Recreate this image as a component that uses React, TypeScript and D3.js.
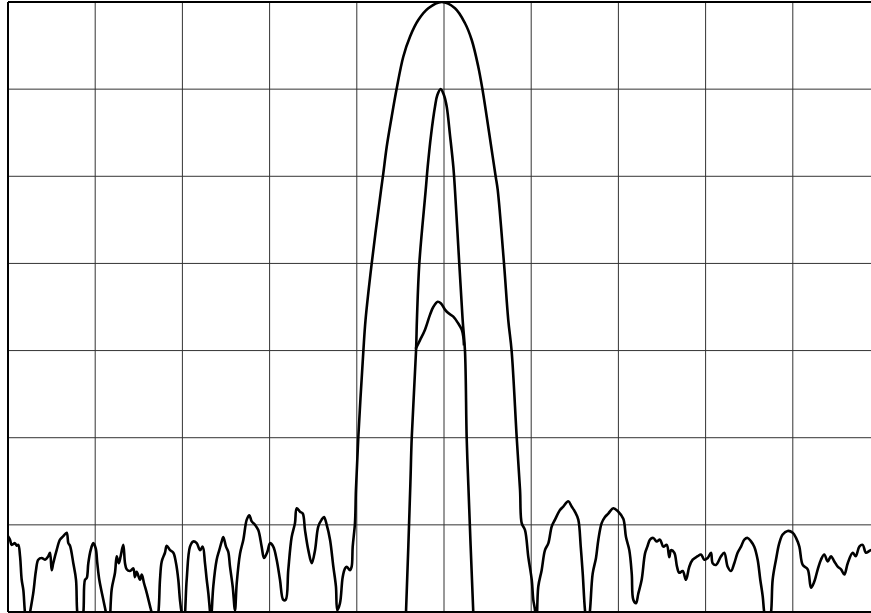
import React from "react";
import * as d3 from "d3";

// x: beam angle in grid divisions (centre = 0), y: level in dB
const xTicks = [-5, -4, -3, -2, -1, 0, 1, 2, 3, 4, 5];
const yTicks = [-70, -60, -50, -40, -30, -20, -10, 0];

// wide beam including noisy side-lobe floor
const wideBeam: [number, number][] = [
  [-5.0, -61.3], [-4.977, -61.7], [-4.958, -62.3], [-4.92, -62.1], [-4.9, -62.4], [-4.882, -62.3],
  [-4.862, -63.6], [-4.843, -66.3], [-4.824, -67.5], [-4.805, -70.1], [-4.776, -72], [-4.748, -70.1],
  [-4.71, -67.8], [-4.679, -65.2], [-4.653, -64.0], [-4.614, -63.8], [-4.576, -64.0], [-4.538, -63.6],
  [-4.518, -63.2], [-4.499, -65.2], [-4.481, -64.4], [-4.442, -62.9], [-4.404, -61.7], [-4.366, -61.3],
  [-4.327, -60.9], [-4.308, -62.1], [-4.289, -62.4], [-4.251, -64.4], [-4.22, -66.3], [-4.205, -70.1],
  [-4.17, -72], [-4.136, -70.1], [-4.117, -66.3], [-4.097, -66.1], [-4.079, -64.4], [-4.052, -62.9],
  [-4.022, -62.1], [-3.994, -62.7], [-3.976, -64.4], [-3.953, -66.3], [-3.907, -68.6], [-3.876, -70.1],
  [-3.842, -72], [-3.811, -67.4], [-3.773, -65.5], [-3.753, -63.6], [-3.73, -64.4], [-3.708, -63.6],
  [-3.678, -62.3], [-3.658, -64.4], [-3.639, -65.1], [-3.601, -65.3], [-3.563, -65.0], [-3.544, -66.0],
  [-3.524, -65.4], [-3.486, -66.3], [-3.466, -65.7], [-3.44, -66.7], [-3.409, -67.8], [-3.372, -69.3],
  [-3.352, -70.1], [-3.314, -72], [-3.276, -70.1], [-3.257, -66.3], [-3.237, -64.2], [-3.2, -63.2],
  [-3.18, -62.4], [-3.142, -62.9], [-3.104, -63.2], [-3.073, -64.4], [-3.047, -66.3], [-3.028, -68.6],
  [-3.008, -70.1], [-2.982, -71], [-2.951, -66.3], [-2.913, -62.5], [-2.875, -61.9], [-2.836, -62.1],
  [-2.798, -62.9], [-2.767, -62.5], [-2.741, -64.4], [-2.721, -66.3], [-2.703, -67.8], [-2.683, -70.0],
  [-2.673, -71], [-2.664, -70.0], [-2.646, -67.1], [-2.607, -64.0], [-2.577, -62.9], [-2.549, -61.9],
  [-2.531, -61.4], [-2.5, -62.5], [-2.474, -63.1], [-2.454, -64.8], [-2.423, -67.1], [-2.397, -69.8],
  [-2.377, -66.7], [-2.339, -63.3], [-2.301, -61.7], [-2.262, -59.4], [-2.232, -58.9], [-2.205, -59.6],
  [-2.167, -60.0], [-2.13, -60.6], [-2.091, -62.5], [-2.064, -63.8], [-2.026, -63.1], [-1.995, -62.1],
  [-1.958, -62.5], [-1.919, -64.0], [-1.881, -66.3], [-1.843, -68.6], [-1.815, -68.6], [-1.786, -65.2],
  [-1.747, -61.4], [-1.709, -59.8], [-1.689, -58.1], [-1.651, -58.5], [-1.62, -58.7], [-1.594, -60.6],
  [-1.556, -62.9], [-1.517, -64.4], [-1.479, -62.9], [-1.442, -60.2], [-1.403, -59.4], [-1.376, -59.1],
  [-1.345, -60.0], [-1.307, -61.7], [-1.269, -64.8], [-1.239, -67.1], [-1.224, -69.8], [-1.193, -69.0],
  [-1.162, -66.0], [-1.135, -65.0], [-1.116, -64.8], [-1.078, -65.2], [-1.059, -64.8], [-1.047, -62.5],
  [-1.021, -59.8], [-1.01, -56.0], [-0.983, -50.0], [-0.925, -40.1], [-0.9, -36.5], [-0.829, -30.0],
  [-0.722, -21.57], [-0.696, -19.66], [-0.657, -16.61], [-0.6, -13.16], [-0.542, -9.9], [-0.467, -6.28],
  [-0.39, -3.98], [-0.295, -2.07], [-0.18, -0.72], [-0.026, 0], [0.126, -0.72], [0.241, -2.44],
  [0.318, -4.36], [0.393, -7.42], [0.439, -9.9], [0.49, -13.16], [0.547, -16.98], [0.593, -20.05],
  [0.616, -21.57], [0.688, -30.0], [0.737, -36.5], [0.776, -40.1],
  [0.834, -50.0], [0.872, -56.0], [0.891, -59.8], [0.929, -60.6], [0.967, -63.7], [1.006, -66.3],
  [1.024, -68.6], [1.044, -69.8], [1.061, -72], [1.081, -67.1], [1.12, -65.2], [1.158, -62.9],
  [1.197, -62.1], [1.235, -60.2], [1.273, -59.4], [1.33, -58.3], [1.368, -57.9], [1.425, -57.3],
  [1.464, -57.9], [1.502, -58.5], [1.54, -59.4], [1.568, -62.5], [1.591, -65.6], [1.617, -69.8],
  [1.646, -72], [1.674, -69.8], [1.705, -65.6], [1.743, -63.8], [1.77, -61.7], [1.808, -59.8],
  [1.846, -59.1], [1.884, -58.7], [1.942, -58.1], [1.999, -58.5], [2.056, -59.3], [2.087, -61.4],
  [2.125, -62.9], [2.153, -65.6], [2.171, -68.6], [2.202, -69.0], [2.228, -67.9], [2.267, -66.3],
  [2.305, -63.3], [2.332, -62.5], [2.362, -61.7], [2.4, -61.5], [2.439, -61.9], [2.477, -61.7],
  [2.515, -62.5], [2.554, -62.3], [2.584, -63.7], [2.603, -62.9], [2.641, -63.2], [2.672, -64.8],
  [2.698, -65.5], [2.737, -65.3], [2.775, -66.3], [2.813, -64.8], [2.852, -64.0], [2.909, -63.6],
  [2.947, -63.4], [2.985, -64.0], [3.024, -63.8], [3.062, -63.2], [3.081, -64.4], [3.119, -64.6],
  [3.177, -63.6], [3.214, -63.2], [3.253, -64.8], [3.291, -65.3], [3.329, -64.4], [3.367, -63.2],
  [3.406, -62.5], [3.444, -61.7], [3.482, -61.5], [3.521, -61.9], [3.558, -62.5], [3.597, -64.0],
  [3.627, -66.3], [3.655, -68.2], [3.673, -70.1], [3.712, -72], [3.75, -70.1], [3.769, -66.3],
  [3.807, -64.0], [3.845, -62.1], [3.884, -61.1], [3.941, -60.7], [3.999, -60.9], [4.037, -61.5],
  [4.075, -62.5], [4.114, -64.6], [4.171, -65.1], [4.209, -67.2], [4.247, -66.5], [4.286, -65.1],
  [4.323, -64.0], [4.361, -63.4], [4.4, -64.2], [4.438, -63.6], [4.476, -64.2], [4.515, -64.8],
  [4.553, -65.1], [4.591, -65.7], [4.63, -64.4], [4.687, -63.2], [4.722, -63.6], [4.763, -62.5],
  [4.801, -62.3], [4.839, -63.2], [4.877, -63.0], [4.943, -62.7]
];

// narrow beam
const narrowBeam: [number, number][] = [
  [-0.45, -73], [-0.436, -70.1], [-0.386, -55.4], [-0.37, -50.0], [-0.321, -40.1], [-0.31, -36.3],
  [-0.283, -30.0], [-0.21, -21.6], [-0.187, -18.9], [-0.149, -15.3], [-0.103, -12.0], [-0.077, -10.7],
  [-0.038, -10.0], [0.0, -10.7], [0.031, -12.0], [0.069, -15.3], [0.107, -18.9], [0.126, -21.6],
  [0.175, -30.0], [0.214, -36.5], [0.241, -40.1], [0.26, -50.0], [0.279, -55.4], [0.336, -70.1],
  [0.35, -73]
];

// notched beam (upper part only)
const notchedBeam: [number, number][] = [
  [-0.325, -39.8], [-0.275, -38.8], [-0.218, -37.6], [-0.161, -35.9], [-0.123, -35.0], [-0.072, -34.4],
  [-0.034, -34.6], [0.011, -35.3], [0.049, -35.7], [0.107, -36.1], [0.164, -36.9], [0.203, -37.6],
  [0.221, -38.4], [0.229, -39.4]
];

export default function App() {
  const W = 871;
  const H = 613;
  const left = 8, right = 880, top = 2, bottom = 612;
  const x = d3.scaleLinear().domain([-5, 5]).range([left, right]);
  const y = d3.scaleLinear().domain([-70, 0]).range([bottom, top]);
  const line = d3
    .line<[number, number]>()
    .x((d) => x(d[0]))
    .y((d) => y(d[1]))
    .curve(d3.curveCatmullRom.alpha(0.5));

  return (
    <svg
      width={W}
      height={H}
      style={{ position: "absolute", left: 0, top: 0, background: "#fff" }}
    >
      <defs>
        <clipPath id="plot">
          <rect x={left} y={top} width={right - left} height={bottom - top} />
        </clipPath>
      </defs>
      <rect x={0} y={0} width={W} height={H} fill="#fff" />
      {xTicks.slice(1, -1).map((t) => (
        <line key={"vx" + t} x1={x(t)} x2={x(t)} y1={top} y2={bottom} stroke="#333" strokeWidth={1} />
      ))}
      {yTicks.slice(1, -1).map((t) => (
        <line key={"hy" + t} x1={left} x2={right} y1={y(t)} y2={y(t)} stroke="#333" strokeWidth={1} />
      ))}
      <g clipPath="url(#plot)" fill="none" stroke="#000" strokeWidth={2.6} strokeLinejoin="round">
        <path d={line(wideBeam) || ""} />
        <path d={line(narrowBeam) || ""} />
        <path d={line(notchedBeam) || ""} />
      </g>
      <line x1={left} x2={left} y1={top} y2={bottom} stroke="#000" strokeWidth={2} />
      <line x1={left} x2={right} y1={top} y2={top} stroke="#000" strokeWidth={2} />
      <line x1={left} x2={right} y1={bottom} y2={bottom} stroke="#000" strokeWidth={2} />
      <line x1={right} x2={right} y1={top} y2={bottom} stroke="#000" strokeWidth={2} />
    </svg>
  );
}
